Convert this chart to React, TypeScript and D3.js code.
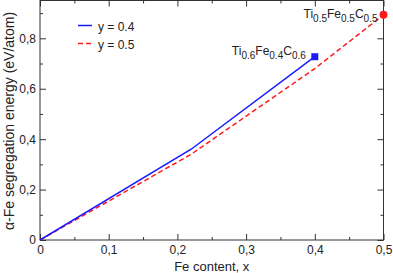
import React, { useEffect, useRef } from 'react';
import * as d3 from 'd3';

// Fe content (x) vs segregation energy
const feContentY04 = [0, 0.22, 0.4];
const energyY04 = [0, 0.36, 0.727];
const feContentY05 = [0, 0.22, 0.4, 0.5];
const energyY05 = [0, 0.34, 0.68, 0.893];

const xMajorTicks = [0, 0.1, 0.2, 0.3, 0.4, 0.5];
const xMinorTicks = [0.05, 0.15, 0.25, 0.35, 0.45];
const yMajorTicks = [0, 0.2, 0.4, 0.6, 0.8];
const yMinorTicks = [0.1, 0.3, 0.5, 0.7, 0.9];

const legendLabels = ['y = 0.4', 'y = 0.5'];

const WIDTH = 393;
const HEIGHT = 273;
const FONT = '"Liberation Sans", Arial, Helvetica, sans-serif';

const commaFormat = (d: number) => (d === 0 ? '0' : d3.format('.1f')(d).replace('.', ','));

const App: React.FC = () => {
  const svgRef = useRef<SVGSVGElement>(null);

  useEffect(() => {
    if (!svgRef.current) return;
    const svg = d3.select(svgRef.current);
    svg.selectAll('*').remove();

    const margin = { top: 0.5, right: 9.5, bottom: 33, left: 40 };
    const innerWidth = WIDTH - margin.left - margin.right;
    const innerHeight = HEIGHT - margin.top - margin.bottom;

    const x = d3.scaleLinear().domain([0, 0.5]).range([0, innerWidth]);
    const y = d3.scaleLinear().domain([0, 0.95]).range([innerHeight, 0]);

    const g = svg.append('g').attr('transform', `translate(${margin.left},${margin.top})`);

    const axisColor = '#333';

    // major/minor ticks on all four sides, pointing inward
    const styleAxis = (sel: d3.Selection<SVGGElement, unknown, null, undefined>) => {
      sel.select('.domain').remove();
      sel.selectAll('line').attr('stroke', axisColor);
      sel.selectAll('text').attr('fill', '#222').style('font-family', FONT).style('font-size', '12px');
    };
    // tick-only axes: drop the label texts
    const ticksOnly = (sel: d3.Selection<SVGGElement, unknown, null, undefined>) => {
      sel.select('.domain').remove();
      sel.selectAll('text').remove();
      sel.selectAll('line').attr('stroke', axisColor);
    };

    g.append('g')
      .attr('transform', `translate(0,${innerHeight})`)
      .call(d3.axisBottom(x).tickValues(xMajorTicks).tickSize(-6).tickPadding(5).tickFormat(d => commaFormat(+d)))
      .call(styleAxis);
    g.append('g')
      .attr('transform', `translate(0,${innerHeight})`)
      .call(d3.axisBottom(x).tickValues(xMinorTicks).tickSize(-3))
      .call(ticksOnly);
    g.append('g')
      .call(d3.axisTop(x).tickValues(xMajorTicks).tickSize(-6))
      .call(ticksOnly);
    g.append('g')
      .call(d3.axisTop(x).tickValues(xMinorTicks).tickSize(-3))
      .call(ticksOnly);

    g.append('g')
      .call(d3.axisLeft(y).tickValues(yMajorTicks).tickSize(-6).tickPadding(4).tickFormat(d => commaFormat(+d)))
      .call(styleAxis);
    g.append('g')
      .call(d3.axisLeft(y).tickValues(yMinorTicks).tickSize(-3))
      .call(ticksOnly);
    g.append('g')
      .attr('transform', `translate(${innerWidth},0)`)
      .call(d3.axisRight(y).tickValues(yMajorTicks).tickSize(-6))
      .call(ticksOnly);
    g.append('g')
      .attr('transform', `translate(${innerWidth},0)`)
      .call(d3.axisRight(y).tickValues(yMinorTicks).tickSize(-3))
      .call(ticksOnly);

    // frame
    g.append('rect')
      .attr('width', innerWidth)
      .attr('height', innerHeight)
      .attr('fill', 'none')
      .attr('stroke', axisColor)
      .attr('stroke-width', 1);

    // axis titles
    svg.append('text')
      .attr('x', margin.left + innerWidth / 2)
      .attr('y', 270.5)
      .attr('text-anchor', 'middle')
      .style('font-family', FONT)
      .style('font-size', '13px')
      .attr('fill', '#222')
      .text('Fe content, x');

    svg.append('text')
      .attr('transform', `translate(13.5,121) rotate(-90)`)
      .attr('text-anchor', 'middle')
      .style('font-family', FONT)
      .style('font-size', '14px')
      .attr('fill', '#222')
      .text('α-Fe segregation energy (eV/atom)');

    const line = d3.line<[number, number]>()
      .x(d => x(d[0]))
      .y(d => y(d[1]));

    const blueData = feContentY04.map((v, i) => [v, energyY04[i]] as [number, number]);
    const redData = feContentY05.map((v, i) => [v, energyY05[i]] as [number, number]);

    g.append('path')
      .datum(redData)
      .attr('d', line)
      .attr('fill', 'none')
      .attr('stroke', '#ff1a1a')
      .attr('stroke-width', 1.5)
      .attr('stroke-dasharray', '5,3');

    g.append('path')
      .datum(blueData)
      .attr('d', line)
      .attr('fill', 'none')
      .attr('stroke', '#1a1aff')
      .attr('stroke-width', 1.5);

    // end markers
    const blueEnd = blueData[blueData.length - 1];
    const redEnd = redData[redData.length - 1];

    g.append('rect')
      .attr('x', x(blueEnd[0]) - 3.5)
      .attr('y', y(blueEnd[1]) - 3.5)
      .attr('width', 7)
      .attr('height', 7)
      .attr('fill', '#1a1aff');

    g.append('circle')
      .attr('cx', x(redEnd[0]))
      .attr('cy', y(redEnd[1]))
      .attr('r', 4)
      .attr('fill', '#ff1a1a');

    // compound labels with subscripts
    const addFormula = (px: number, py: number, parts: [string, string][]) => {
      const t = g.append('text')
        .attr('x', px)
        .attr('y', py)
        .attr('text-anchor', 'end')
        .style('font-family', FONT)
        .style('font-size', '12px')
        .attr('fill', '#222');
      parts.forEach(([el, sub], i) => {
        t.append('tspan').attr('dy', i === 0 ? 0 : -4).text(el);
        t.append('tspan').attr('dy', 4).style('font-size', '10px').text(sub);
      });
    };

    addFormula(x(blueEnd[0]) - 9, y(blueEnd[1]) - 1.5, [['Ti', '0.6'], ['Fe', '0.4'], ['C', '0.6']]);
    addFormula(x(redEnd[0]) - 6, y(redEnd[1]) + 3, [['Ti', '0.5'], ['Fe', '0.5'], ['C', '0.5']]);

    // legend
    const legend = svg.append('g').attr('transform', 'translate(78,25.5)');
    legendLabels.forEach((label, i) => {
      const row = legend.append('g').attr('transform', `translate(0,${i * 18})`);
      row.append('line')
        .attr('x1', 0)
        .attr('x2', 14)
        .attr('stroke', i === 0 ? '#1a1aff' : '#ff1a1a')
        .attr('stroke-width', 1.5)
        .attr('stroke-dasharray', i === 0 ? null : '5,3');
      row.append('text')
        .attr('x', 20)
        .attr('y', 5)
        .style('font-family', FONT)
        .style('font-size', '12px')
        .attr('fill', '#222')
        .text(label);
    });
  }, []);

  return (
    <svg
      ref={svgRef}
      width={WIDTH}
      height={HEIGHT}
      style={{ position: 'absolute', left: 0, top: 0, background: '#fff' }}
    />
  );
};

export default App;
